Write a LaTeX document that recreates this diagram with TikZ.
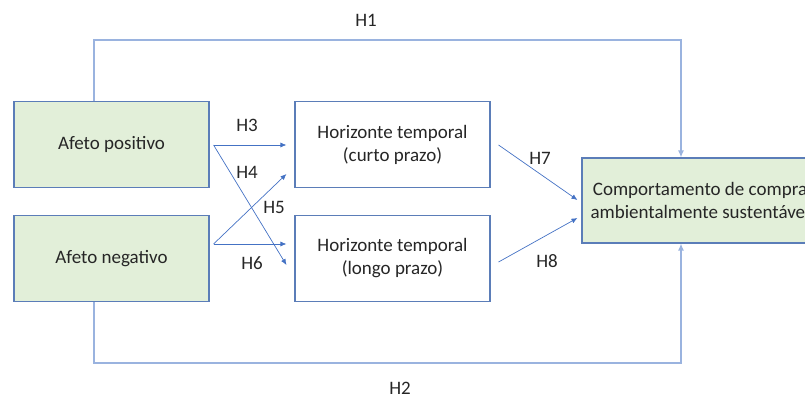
\documentclass[tikz,border=0pt]{standalone}
\usepackage{fontspec}
\setmainfont{Carlito}
\usetikzlibrary{arrows.meta,calc}
\definecolor{boxfill}{HTML}{E2EFD9}
\definecolor{boxline}{HTML}{5B7DB8}
\definecolor{arrowblue}{HTML}{4472C4}
\definecolor{pathblue}{HTML}{9AB3DF}
\begin{document}
\begin{tikzpicture}[x=1pt,y=-1pt,
  every node/.style={font=\fontsize{19}{23}\selectfont, inner sep=0pt, text=black!85},
  construct/.style={draw=boxline, line width=1.1pt, fill=boxfill, minimum height=86pt, align=center},
  mediator/.style={draw=boxline, line width=1.1pt, fill=white, minimum width=195pt, minimum height=86pt, align=center},
  link/.style={draw=arrowblue, line width=0.7pt, -{Latex[length=6pt,width=5pt]}},
  direct/.style={draw=pathblue, line width=1.2pt, -{Latex[length=7pt,width=6pt]}}]
\useasboundingbox (0,0) rectangle (805,398);

% constructs
\node[construct, minimum width=195pt] (pos) at (111.5,144.5) {Afeto positivo};
\node[construct, minimum width=195pt] (neg) at (111.5,258.5) {Afeto negativo};
\node[mediator] (curto) at (392.5,144.5) {Horizonte temporal\\(curto prazo)};
\node[mediator] (longo) at (392.5,258.5) {Horizonte temporal\\(longo prazo)};
\node[construct, minimum width=236pt, minimum height=85pt] (comp) at (700,200.5)
  {Comportamento de compra\\ambientalmente sustentável};

% corners of the direct paths
\coordinate (tl) at (94,40);
\coordinate (tr) at (681,40);
\coordinate (bl) at (94,363);
\coordinate (br) at (681,363);

% direct effects
\draw[direct] (pos.north -| tl) -- (tl) -- (tr) -- (tr |- comp.north);
\draw[direct] (neg.south -| bl) -- (bl) -- (br) -- (br |- comp.south);

% affect -> time horizon
\coordinate (ps) at ($(pos.east)+(4,0.5)$);
\coordinate (ns) at ($(neg.east)+(4,-14.5)$);
\draw[link] (ps) -- ($(curto.west)+(-8,0.5)$);
\draw[link] (ps) -- ($(longo.west)+(-8,6.5)$);
\draw[link] (ns) -- ($(longo.west)+(-8,-14.5)$);
\draw[link] (ns) -- ($(curto.west)+(-8,29.5)$);

% time horizon -> behaviour
\draw[link] ($(curto.east)+(8,0.5)$) -- ($(comp.west)+(-4,-0.5)$);
\draw[link] ($(longo.east)+(8,3.5)$) -- ($(comp.west)+(-4,17.5)$);

% hypothesis labels
\node (h1) at (366,20) {H1};
\node (h2) at (400,388) {H2};
\node (h3) at (247,125) {H3};
\node (h4) at (247,172) {H4};
\node (h5) at (274,207) {H5};
\node (h6) at (252,263) {H6};
\node (h7) at (540,158) {H7};
\node (h8) at (547,261) {H8};
\end{tikzpicture}
\end{document}
